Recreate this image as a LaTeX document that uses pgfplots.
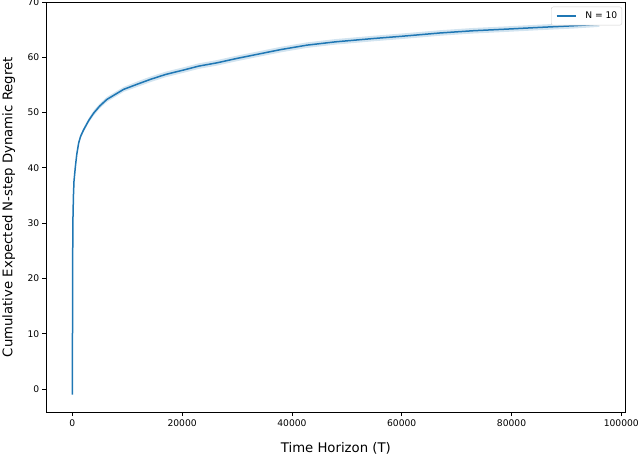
\documentclass[border=0pt]{standalone}
\usepackage{fontspec}
\setmainfont{DejaVu Sans}
\usepackage{pgfplots}
\usepackage{pgfplotstable}
\pgfplotsset{compat=1.18}
\usepgfplotslibrary{fillbetween}
\definecolor{mplblue}{HTML}{1F77B4}

% mean regret and its band
\pgfplotstableread{
T      y     lo    hi
1      -1.0  -1.1  -0.9
60     24.0  23.8  24.2
120    31.4  31.1  31.7
200    35.0  34.7  35.3
300    37.6  37.3  37.9
550    40.2  39.85 40.55
800    42.4  42.05 42.75
1150   44.5  44.1  44.9
1500   45.7  45.3  46.1
2060   46.9  46.5  47.3
3000   48.6  48.2  49.0
3880   49.9  49.45 50.35
5000   51.2  50.75 51.65
6320   52.4  51.95 52.85
8000   53.4  52.95 53.85
9350   54.2  53.75 54.65
12000  55.2  54.7  55.7
14200  56.0  55.5  56.5
17000  56.9  56.4  57.4
20270  57.7  57.2  58.2
23000  58.4  57.9  58.9
26350  59.0  58.5  59.5
30000  59.8  59.3  60.3
34000  60.6  60.1  61.1
38000  61.4  60.9  61.9
42750  62.2  61.7  62.7
48000  62.8  62.3  63.3
54900  63.4  62.9  63.9
60000  63.8  63.3  64.3
67000  64.4  63.9  64.9
73000  64.8  64.3  65.3
79200  65.1  64.6  65.6
85000  65.4  64.9  65.9
91300  65.7  65.2  66.2
96000  66.0  65.5  66.5
}\regret

\begin{document}
\begin{tikzpicture}
\begin{axis}[
  name=ax,
  scale only axis,
  width=579.7bp, height=410.3bp,
  xmin=-4800, xmax=100800,
  ymin=-4.2, ymax=70,
  xtick={0,20000,...,100000},
  ytick={0,10,...,70},
  scaled x ticks=false,
  /pgf/number format/fixed,
  /pgf/number format/1000 sep={},
  /pgf/number format/assume math mode=true,
  tick align=outside,
  xtick pos=lower, ytick pos=left,
  major tick length=3.8bp,
  tick style={black, line width=0.8bp},
  axis line style={black, line width=0.8bp},
  ticklabel style={font=\fontsize{9.2}{11}\selectfont, inner sep=0pt},
  xticklabel style={anchor=north, yshift=-3.6bp},
  yticklabel style={anchor=east, xshift=-2.7bp},
  label style={font=\fontsize{13.3}{16}\selectfont, inner sep=0pt},
  xlabel={Time Horizon (T)},
  xlabel style={at={(axis description cs:0.5,0)}, anchor=base, yshift=-40.4bp},
  ylabel={Cumulative Expected N-step Dynamic Regret},
  ylabel style={at={(axis description cs:-0.0759,0.5)}, anchor=north},
  legend style={at={(axis description cs:1,1)}, anchor=north east,
    xshift=-3.7bp, yshift=-4.7bp, draw=black!18, rounded corners=2bp,
    inner xsep=4.5bp, inner ysep=2bp,
    font=\fontsize{9.2}{11}\selectfont,
    nodes={inner xsep=0pt, inner ysep=3bp},
    /tikz/every odd column/.append style={column sep=9bp}},
  legend image code/.code={\draw[#1] (0bp,0bp) -- (19bp,0bp);},
]
\addplot[draw=none, forget plot, name path=hi] table[x=T, y=hi] {\regret};
\addplot[draw=none, forget plot, name path=lo] table[x=T, y=lo] {\regret};
\addplot[fill=mplblue, fill opacity=0.2, draw=none, forget plot] fill between[of=hi and lo];
\addplot[mplblue, line width=1.5bp, mark=none] table[x=T, y=y] {\regret};
\addlegendentry{N = 10}
\end{axis}
\pgfresetboundingbox
\path[use as bounding box] ([shift={(-46bp,-42.7bp)}]ax.south west) rectangle ([shift={(14.3bp,2bp)}]ax.north east);
\end{tikzpicture}
\end{document}
